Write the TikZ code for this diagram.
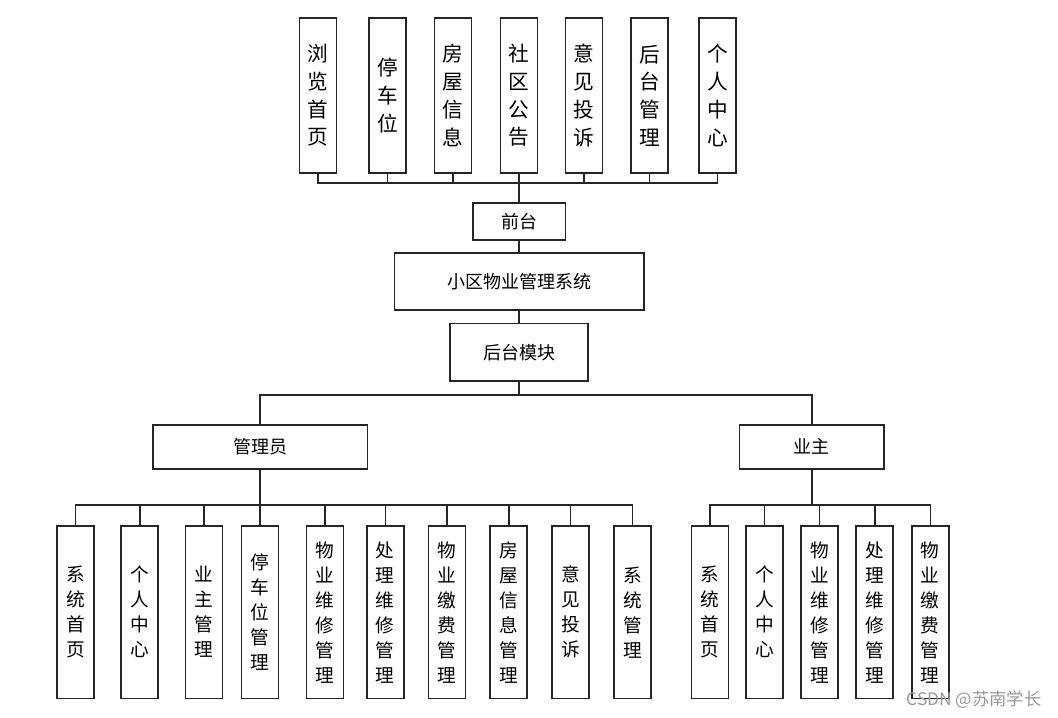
\documentclass[tikz,border=0pt]{standalone}
\usepackage{fontspec}
\newfontfamily\cjk{Noto Sans CJK SC}
\tikzset{every picture/.style={line width=0.75pt}}
\tikzset{
  vbox/.style={draw=black!85,line width=1.25pt,minimum width=27.75pt,minimum height=115.8pt,inner sep=0pt,align=center,font=\cjk\fontsize{15.5}{20.8}\selectfont},
  vboxlow/.style={vbox,minimum height=129.2pt,font=\cjk\fontsize{14}{18.75}\selectfont},
  midbox/.style={draw=black!85,line width=1.25pt,inner sep=0pt,font=\cjk\fontsize{13.5}{16}\selectfont},
  link/.style={line width=1.15pt,draw=black!85},
  trunk/.style={line width=1.7pt,draw=black!85}
}
\begin{document}
\begin{tikzpicture}[x=0.75pt,y=0.75pt,yscale=-1,xscale=1]
		\useasboundingbox (0,0) rectangle (1058,718);
		% Front pages
		\node [vbox] (llsy) at (318,95.5) {浏\\览\\首\\页};
		\node [vbox] (tcw) at (387.5,95.5) {停\\车\\位};
		\node [vbox] (fwxx) at (453,95.5) {房\\屋\\信\\息};
		\node [vbox] (sqgg) at (519,95.5) {社\\区\\公\\告};
		\node [vbox] (yjts) at (584,95.5) {意\\见\\投\\诉};
		\node [vbox] (htgl) at (649.7,95.5) {后\\台\\管\\理};
		\node [vbox] (grzx) at (717.5,95.5) {个\\人\\中\\心};
		% Main chain
		\node [midbox,minimum width=69.5pt,minimum height=28pt] (qt) at (519,221.5) {前台};
		\node [midbox,minimum width=187pt,minimum height=42.75pt] (xq) at (519,281.8) {小区物业管理系统};
		\node [midbox,minimum width=103.6pt,minimum height=43pt] (htmk) at (519,352.3) {后台模块};
		\node [midbox,minimum width=161pt,minimum height=33pt] (gly) at (260,446.7) {管理员};
		\node [midbox,minimum width=108.3pt,minimum height=33pt] (yz) at (811.8,446.7) {业主};
		% Admin pages
		\node [vboxlow] (gxtsy) at (75.7,612.2) {系\\统\\首\\页};
		\node [vboxlow] (ggrzx) at (139.8,612.2) {个\\人\\中\\心};
		\node [vboxlow] (gyzgl) at (204,612.2) {业\\主\\管\\理};
		\node [vboxlow] (gtcwgl) at (260,612.2) {停\\车\\位\\管\\理};
		\node [vboxlow] (gwxgl) at (325,612.2) {物\\业\\维\\修\\管\\理};
		\node [vboxlow] (gclwx) at (385.3,612.2) {处\\理\\维\\修\\管\\理};
		\node [vboxlow] (gjfgl) at (447,612.2) {物\\业\\缴\\费\\管\\理};
		\node [vboxlow] (gfwgl) at (508.8,612.2) {房\\屋\\信\\息\\管\\理};
		\node [vboxlow] (gyjts) at (570.4,612.2) {意\\见\\投\\诉};
		\node [vboxlow] (gxtgl) at (632.4,612.2) {系\\统\\管\\理};
		% Owner pages
		\node [vboxlow] (yxtsy) at (710,612.2) {系\\统\\首\\页};
		\node [vboxlow] (ygrzx) at (764.7,612.2) {个\\人\\中\\心};
		\node [vboxlow] (ywxgl) at (819.7,612.2) {物\\业\\维\\修\\管\\理};
		\node [vboxlow] (yclwx) at (874.8,612.2) {处\\理\\维\\修\\管\\理};
		\node [vboxlow] (yjfgl) at (930.3,612.2) {物\\业\\缴\\费\\管\\理};
		% Bus points
		\coordinate (qbus) at (519,183);
		\coordinate (hbus) at (519,395);
		\coordinate (gbus) at (260,505);
		\coordinate (ybus) at (811.8,505);
		% Connectors
		\draw [link] (llsy.south) |- (qbus);
		\draw [link] (tcw.south) |- (qbus);
		\draw [link] (fwxx.south) |- (qbus);
		\draw [link] (yjts.south) |- (qbus);
		\draw [link] (htgl.south) |- (qbus);
		\draw [link] (grzx.south) |- (qbus);
		\draw [trunk] (sqgg.south) -- (qt.north);
		\draw [link] (qt.south) -- (xq.north);
		\draw [link] (xq.south) -- (htmk.north);
		\draw [link] (htmk.south) -- (hbus);
		\draw [link] (gly.north) |- (hbus);
		\draw [link] (yz.north) |- (hbus);
		\draw [trunk] (gly.south) -- (gbus);
		\draw [link] (gxtsy.north) |- (gbus);
		\draw [link] (ggrzx.north) |- (gbus);
		\draw [link] (gyzgl.north) |- (gbus);
		\draw [link] (gtcwgl.north) -- (gbus);
		\draw [link] (gwxgl.north) |- (gbus);
		\draw [link] (gclwx.north) |- (gbus);
		\draw [link] (gjfgl.north) |- (gbus);
		\draw [link] (gfwgl.north) |- (gbus);
		\draw [link] (gyjts.north) |- (gbus);
		\draw [link] (gxtgl.north) |- (gbus);
		\draw [trunk] (yz.south) -- (ybus);
		\draw [link] (yxtsy.north) |- (ybus);
		\draw [link] (ygrzx.north) |- (ybus);
		\draw [link] (ywxgl.north) |- (ybus);
		\draw [link] (yclwx.north) |- (ybus);
		\draw [link] (yjfgl.north) |- (ybus);
		% Watermark
		\node [font=\cjk\fontsize{13}{15}\selectfont,text=black!40,inner sep=0pt] (mark) at (974,700) {CSDN @苏南学长};
\end{tikzpicture}
\end{document}
